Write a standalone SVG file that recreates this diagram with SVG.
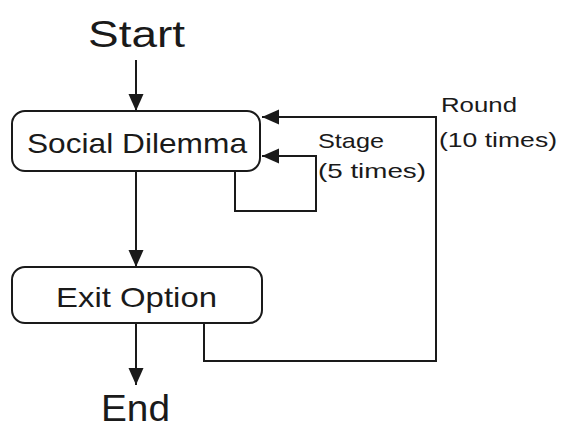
<svg xmlns="http://www.w3.org/2000/svg" width="562" height="428" viewBox="0 0 562 428">
<style>
.box{fill:#fff;stroke:#1a1a1a;stroke-width:2}
.ln{fill:none;stroke:#1a1a1a;stroke-width:2}
text{font-family:"Liberation Sans","DejaVu Sans",sans-serif;fill:#1a1a1a}
.big{font-size:36px}
.node{font-size:28px}
.lab{font-size:21px}
</style>
<defs>
<marker id="ah" markerUnits="userSpaceOnUse" markerWidth="18" markerHeight="16" refX="17" refY="7.5" orient="auto">
<path d="M0,0 L17,7.5 L0,15 z" fill="#1a1a1a"/>
</marker>
</defs>
<g id="start"><text class="big" x="88" y="47" textLength="97" lengthAdjust="spacingAndGlyphs">Start</text></g>
<g id="social-dilemma">
<rect class="box" x="12" y="111" width="248" height="60" rx="13"/>
<text class="node" x="27" y="153" textLength="220" lengthAdjust="spacingAndGlyphs">Social Dilemma</text>
</g>
<g id="exit-option">
<rect class="box" x="12" y="267" width="250" height="56" rx="13"/>
<text class="node" x="56" y="307" textLength="161" lengthAdjust="spacingAndGlyphs">Exit Option</text>
</g>
<g id="end"><text class="big" x="101" y="421" textLength="69" lengthAdjust="spacingAndGlyphs">End</text></g>
<g id="connectors">
<line class="ln" x1="136" y1="60" x2="136" y2="111" marker-end="url(#ah)"/>
<line class="ln" x1="136" y1="171" x2="136" y2="267" marker-end="url(#ah)"/>
<line class="ln" x1="136" y1="323" x2="136" y2="385" marker-end="url(#ah)"/>
<polyline class="ln" points="235,171 235,211 316,211 316,156 262,156" marker-end="url(#ah)"/>
<polyline class="ln" points="204,323 204,361 436,361 436,117 262,117" marker-end="url(#ah)"/>
</g>
<g id="labels">
<text class="lab" x="318" y="148" textLength="66" lengthAdjust="spacingAndGlyphs">Stage</text>
<text class="lab" x="318" y="178" textLength="108" lengthAdjust="spacingAndGlyphs">(5 times)</text>
<text class="lab" x="441" y="112" textLength="76" lengthAdjust="spacingAndGlyphs">Round</text>
<text class="lab" x="439" y="147" textLength="118" lengthAdjust="spacingAndGlyphs">(10 times)</text>
</g>
</svg>
